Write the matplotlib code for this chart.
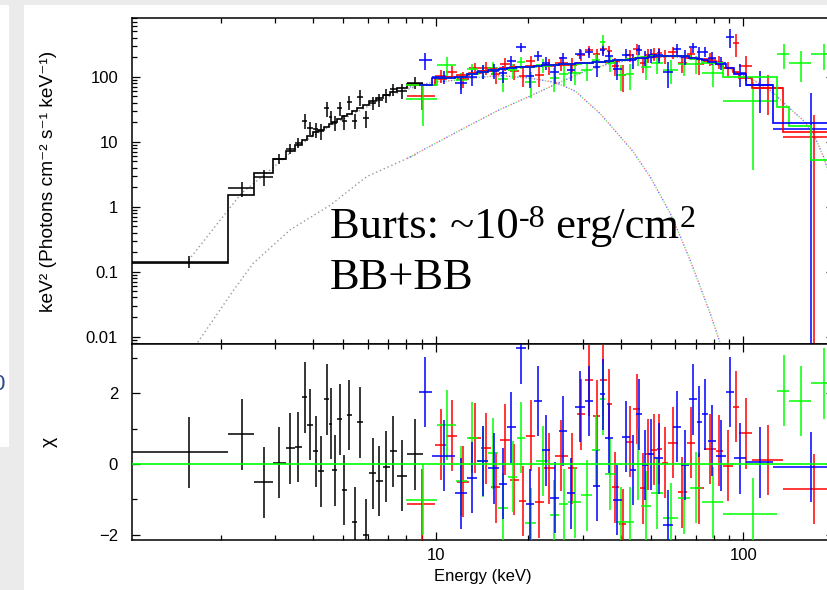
import numpy as np
import matplotlib.pyplot as plt
from matplotlib.patches import Rectangle
from matplotlib.ticker import LogLocator, NullFormatter, FuncFormatter, FixedLocator

plt.rcParams['font.family'] = ['Liberation Sans', 'DejaVu Sans']

# ---- data set 1 (black, low energy) ----
blk_edges = [1.03, 2.11, 2.56, 2.95, 3.25, 3.48, 3.67, 3.82, 3.98, 4.15, 4.34, 4.48, 4.61,
             4.78, 4.95, 5.13, 5.34, 5.56, 5.80, 6.08, 6.38, 6.71, 7.07, 7.45, 8.05, 9.1]
blk_model = [0.135, 1.51, 3.33, 5.4, 7.2, 8.8, 10.6, 12.2, 14.0, 15.3, 17.0, 18.4, 20.3,
             22.5, 24.5, 27, 30, 33, 37, 42, 47, 52, 58, 66, 76]
blk_flux = [0.143, 1.93, 2.9, 5.45, 7.8, 9.7, 21, 16.4, 15.5, 14.5, 32.7, 24.3, 19.4,
            32.7, 20.5, 41, 21, 49, 23, 40, 44, 52, 64, 61, 81]
blk_err = [0.028, 0.5, 0.8, 0.9, 1.3, 1.8, 5.5, 3.8, 4, 4, 8.6, 5.2, 5,
           8.1, 5.5, 10, 5.5, 14, 7, 9, 10, 12, 14, 15, 17]
blk_chi = [0.33, 0.84, -0.52, 0.03, 0.44, 0.48, 1.88, 1.11, 0.36, -0.21, 1.83, 1.14, -0.18,
           1.26, -0.74, 1.38, -1.65, 1.18, -2.0, -0.26, -0.48, -0.08, 0.36, -0.33, 0.27]

# ---- data set 2 (red) ----
red_edges = [8.08, 9.94, 10.8, 11.7, 12.8, 14.0, 15.1, 16.2, 17.4, 18.6, 19.7, 21.0, 22.4, 24.4,
             26.8, 28.7, 30.5, 32.5, 34.2, 35.9, 37.4, 39.3, 41.6, 43.8, 46.2, 47.9, 49.9, 52.2,
             54.4, 56.7, 61.1, 65.6, 69.4, 74.5, 81.2, 85.9, 92.6, 96.5, 107, 134, 206]
red_model = [74, 92, 99, 105, 113, 124, 130, 135, 139, 141, 144, 146, 150, 154, 157, 160, 163,
             166, 170, 174, 177, 182, 186, 191, 196, 200, 203, 206, 207, 208, 206, 197, 187,
             172, 155, 137, 118, 95, 66, 14.3]
red_flux = [51, 104, 119, 92, 134, 138, 109, 158, 123, 104, 173, 107, 146, 163, 152, 216, 259,
            222, 270, 248, 148, 105, 215, 265, 162, 214, 223, 228, 209, 239, 165, 227, 155,
            190, 169, 135, 326, 146, 66, 12]
red_err = [20, 23, 25, 26, 28, 31, 33, 34, 35, 35, 36, 37, 38, 39, 39, 40, 41, 42, 43, 44, 44,
           46, 47, 48, 49, 50, 51, 52, 52, 52, 52, 49, 47, 43, 39, 34, 128, 60, 40, 13.7]
red_chi = [-1.14, 0.54, 0.80, -0.5, 0.73, 0.44, -0.66, 0.68, -0.45, -1.05, 0.80, -1.08, -0.12,
           0.23, -0.12, 1.40, 2.36, 1.36, 2.36, 1.69, -0.66, -1.70, 0.63, 1.55, -0.69, 0.27,
           0.40, 0.42, 0.03, 0.60, -0.80, 0.60, -0.69, 0.42, 0.37, -0.05, 1.62, 0.87, 0.11, -0.71]

# ---- data set 3 (green) ----
grn_edges = [8.0, 10.1, 11.6, 12.6, 13.7, 14.8, 15.9, 17.2, 18.4, 19.5, 21.2, 23.5, 25.1, 26.9,
             29.7, 32.2, 34.2, 35.6, 38.3, 41.6, 44.1, 46.5, 50.1, 54.8, 61.3, 67.1, 73.2, 85.6,
             129, 141, 166, 199]
grn_model = [74, 94, 100, 110, 120, 127, 132, 137, 140, 143, 147, 152, 155, 158, 162, 166, 170,
             174, 180, 187, 193, 199, 205, 208, 205, 190, 165, 98, 34.5, 17.4, 5.3]
grn_flux = [45.5, 150, 88, 130, 122, 137, 91, 125, 166, 83, 150, 97, 111, 115, 126, 182, 340,
            161, 106, 110, 193, 139, 162, 128, 155, 158, 115, 42.7, 223, 164, 221]
grn_err = [28, 50, 25, 28, 30, 32, 33, 34, 35, 36, 37, 38, 39, 40, 41, 42, 95, 44, 45, 47, 48,
           50, 51, 52, 51, 48, 46, 39, 91, 82, 94]
grn_chi = [-1.02, 1.10, -0.48, 0.74, 0.07, 0.30, -1.25, -0.36, 0.74, -1.68, 0.08, -1.44, -1.14,
           -1.08, -0.89, 0.38, 1.83, -0.29, -1.65, -1.65, -0.01, -1.2, -0.83, -1.53, -0.97,
           -0.67, -1.08, -1.41, 2.07, 1.78, 2.28]

# ---- data set 4 (blue) ----
blu_edges = [8.8, 9.7, 11.5, 12.6, 13.6, 14.8, 16.0, 17.0, 18.2, 19.6, 20.9, 22.2, 23.5, 25.2,
             26.6, 28.4, 30.6, 32.5, 34.2, 35.6, 37.7, 40.2, 42.7, 44.6, 46.7, 48.8, 51.2, 54.8,
             59.1, 62.5, 66.6, 70.4, 73.1, 76.5, 81.5, 87.5, 92.9, 102, 125, 206]
blu_model = [75, 95, 100, 110, 120, 127, 132, 137, 140, 143, 146, 149, 152, 155, 158, 160, 163,
             166, 170, 174, 178, 183, 188, 193, 197, 201, 205, 208, 208, 205, 195, 187, 180,
             168, 155, 135, 110, 74.5, 19.4]
blu_flux = [180, 100, 79, 99, 122, 123, 114, 172, 283, 102, 211, 163, 116, 191, 125, 225, 236,
            140, 254, 206, 133, 218, 180, 261, 196, 215, 213, 118, 263, 203, 284, 243, 243,
            196, 164, 410, 114, 74.5, 15.5]
blu_err = [52, 24, 25, 27, 30, 32, 33, 34, 44, 36, 37, 37, 38, 39, 40, 40, 41, 42, 43, 44, 45,
           46, 47, 48, 49, 50, 51, 52, 52, 51, 49, 47, 45, 42, 39, 135, 45, 47, 41]
blu_chi = [2.03, 0.23, -0.83, -0.39, 0.08, -0.12, -0.56, 1.03, 3.27, -1.14, 1.78, 0.38, -0.95,
           0.93, -0.83, 1.62, 1.78, -0.62, 1.97, 0.73, -1.02, 0.77, -0.17, 1.40, -0.03, 0.27,
           0.16, -1.74, 1.05, -0.03, 1.83, 1.19, 1.40, 0.66, 0.23, 2.03, 0.16, 0.05, -0.09]

# ---- model components (two blackbodies) ----
cool_blk_e = [1.57, 2.33, 2.75, 3.37, 3.90, 4.55, 5.24, 5.94, 6.89, 7.75, 8.58]
cool_blk_f = [0.15, 1.6, 3.0, 6.8, 11.5, 17.5, 25, 34, 47, 60, 70]
hot_blk_e = [1.57, 1.67, 2.20, 2.55, 3.36, 4.53, 5.96, 8.58]
hot_blk_f = [0.005, 0.0078, 0.052, 0.135, 0.44, 1.05, 2.9, 6.3]
cool_col_e = [8.06, 9.79, 11.5, 13.9, 16.2, 20.2, 24.4, 28.4, 34.2, 38.9, 43.8, 49.7, 57.8,
              62.3, 67.1, 72.3, 77.9, 84.0, 87.2]
cool_col_f = [68, 82, 88, 98, 104, 95, 82, 60, 27, 13.5, 7.0, 2.9, 0.79, 0.35, 0.15, 0.059,
              0.023, 0.008, 0.005]
hot_col_e = [8.06, 9.79, 12.6, 16.2, 20.2, 24.7, 30.1, 36.9, 46.1, 57.8, 72.3, 90.5, 107.5,
             122, 139, 156, 168.5, 182, 196]
hot_col_f = [5.5, 9, 17, 31.5, 50, 78, 118, 160, 190, 203, 185, 130, 89, 62, 35, 21.6, 13.6,
             5.9, 2.0]

sets = [
    ('black', blk_edges, blk_model, blk_flux, blk_err, blk_chi),
    ('#ff0000', red_edges, red_model, red_flux, red_err, red_chi),
    ('#00ff00', grn_edges, grn_model, grn_flux, grn_err, grn_chi),
    ('#0000ff', blu_edges, blu_model, blu_flux, blu_err, blu_chi),
]

W, H = 828, 590
fig = plt.figure(figsize=(W / 100, H / 100), dpi=100)
fig.patch.set_facecolor('white')

# slide background strips
gray = '#ebebeb'
fig.add_artist(Rectangle((0, 1 - 5 / H), 1, 5 / H, transform=fig.transFigure, color=gray, lw=0))
fig.add_artist(Rectangle((9 / W, 0), 15 / W, 1, transform=fig.transFigure, color=gray, lw=0))
fig.add_artist(Rectangle((0, 0), 9 / W, 1 - 447 / H, transform=fig.transFigure, color=gray, lw=0))
fig.text(-8 / W, 1 - 385 / H, '0', color='#2a4a8a', fontsize=16, va='center', ha='left')

ax1 = fig.add_axes([132 / W, 1 - 344 / H, (834 - 132) / W, (344 - 18) / H])
ax2 = fig.add_axes([132 / W, 1 - 540 / H, (834 - 132) / W, (540 - 344) / H], sharex=ax1)

lw = 1.1
for color, edges, model, flux, err, chi in sets:
    lo = np.array(edges[:-1])
    hi = np.array(edges[1:])
    x = (lo + hi) / 2
    xerr = [x - lo, hi - x]
    flux = np.array(flux)
    err = np.array(err)
    err_lo = np.where(flux - err > 0, err, flux - 1e-6)
    ax1.errorbar(x, flux, xerr=xerr, yerr=[err_lo, err], fmt='none',
                 ecolor=color, elinewidth=lw, capsize=0, zorder=3)
    ax2.errorbar(x, chi, xerr=xerr, yerr=1.0, fmt='none',
                 ecolor=color, elinewidth=lw, capsize=0, zorder=3)

for color, edges, model, flux, err, chi in sets:
    ax1.stairs(model, edges, baseline=None, color=color, lw=1.2, zorder=4)

# dotted model components
ax1.plot(cool_blk_e, cool_blk_f, color='#999999', lw=1.0, ls=(0, (1, 2)), zorder=2)
ax1.plot(hot_blk_e, hot_blk_f, color='#999999', lw=1.0, ls=(0, (1, 2)), zorder=2)
for off, c in zip([0, 2, 4], ['#ff7070', '#70e070', '#7070ff']):
    ax1.plot(cool_col_e, cool_col_f, color=c, lw=1.0, ls=(off, (1, 5)), zorder=2)
    ax1.plot(hot_col_e, hot_col_f, color=c, lw=1.0, ls=(off, (1, 5)), zorder=2)

ax2.axhline(0, color='#00ff00', lw=1.2, zorder=5)

ax1.set_xscale('log')
ax1.set_yscale('log')
ax1.set_xlim(1.028, 197)
ax1.set_ylim(0.0077, 800)
ax2.set_ylim(-2.15, 3.39)

fmt = FuncFormatter(lambda v, p: '%g' % v)
ax1.xaxis.set_major_locator(LogLocator(base=10))
ax1.xaxis.set_minor_locator(LogLocator(base=10, subs=np.arange(2, 10)))
ax1.xaxis.set_major_formatter(fmt)
ax1.xaxis.set_minor_formatter(NullFormatter())
ax1.yaxis.set_major_locator(FixedLocator([0.01, 0.1, 1, 10, 100]))
ax1.yaxis.set_minor_locator(LogLocator(base=10, subs=np.arange(2, 10), numticks=20))
ax1.yaxis.set_major_formatter(fmt)
ax1.yaxis.set_minor_formatter(NullFormatter())
ax2.yaxis.set_major_locator(FixedLocator([-2, 0, 2]))
ax2.yaxis.set_minor_locator(FixedLocator([-1, 1, 3]))
plt.setp(ax1.get_xticklabels(), visible=False)

for ax in (ax1, ax2):
    ax.tick_params(which='both', direction='in', top=True, right=True, width=0.9,
                   labelsize=12, colors='black')
    ax.tick_params(which='major', length=6)
    ax.tick_params(which='minor', length=3.3)
    ax.tick_params(axis='y', pad=10)
    ax.tick_params(axis='x', pad=6)
    for s in ax.spines.values():
        s.set_linewidth(1.1)

ax1.set_ylabel('keV² (Photons cm⁻² s⁻¹ keV⁻¹)', fontsize=13.8)
ax1.yaxis.set_label_coords(-0.107, 0.5)
ax2.set_ylabel('χ', fontsize=14)
ax2.yaxis.set_label_coords(-0.105, 0.5)
ax2.set_xlabel('Energy (keV)', fontsize=12)
ax2.xaxis.set_label_coords(0.5, -0.148)

# overlay text, superscripts placed piece by piece
renderer = fig.canvas.get_renderer()
xpos = 330
for s, size, rise in [('Burts: ~10', 32, 0), ('-8', 23, 11), (' erg/cm', 32, 0), ('2', 23, 11)]:
    t = fig.text(xpos / W, 1 - (238 - rise) / H, s, fontsize=size,
                 family='Liberation Serif', va='baseline', ha='left')
    xpos = t.get_window_extent(renderer=renderer).x1
fig.text(330 / W, 1 - 289 / H, 'BB+BB', fontsize=32, family='Liberation Serif',
         va='baseline', ha='left')

fig.savefig('out.png', dpi=100)
